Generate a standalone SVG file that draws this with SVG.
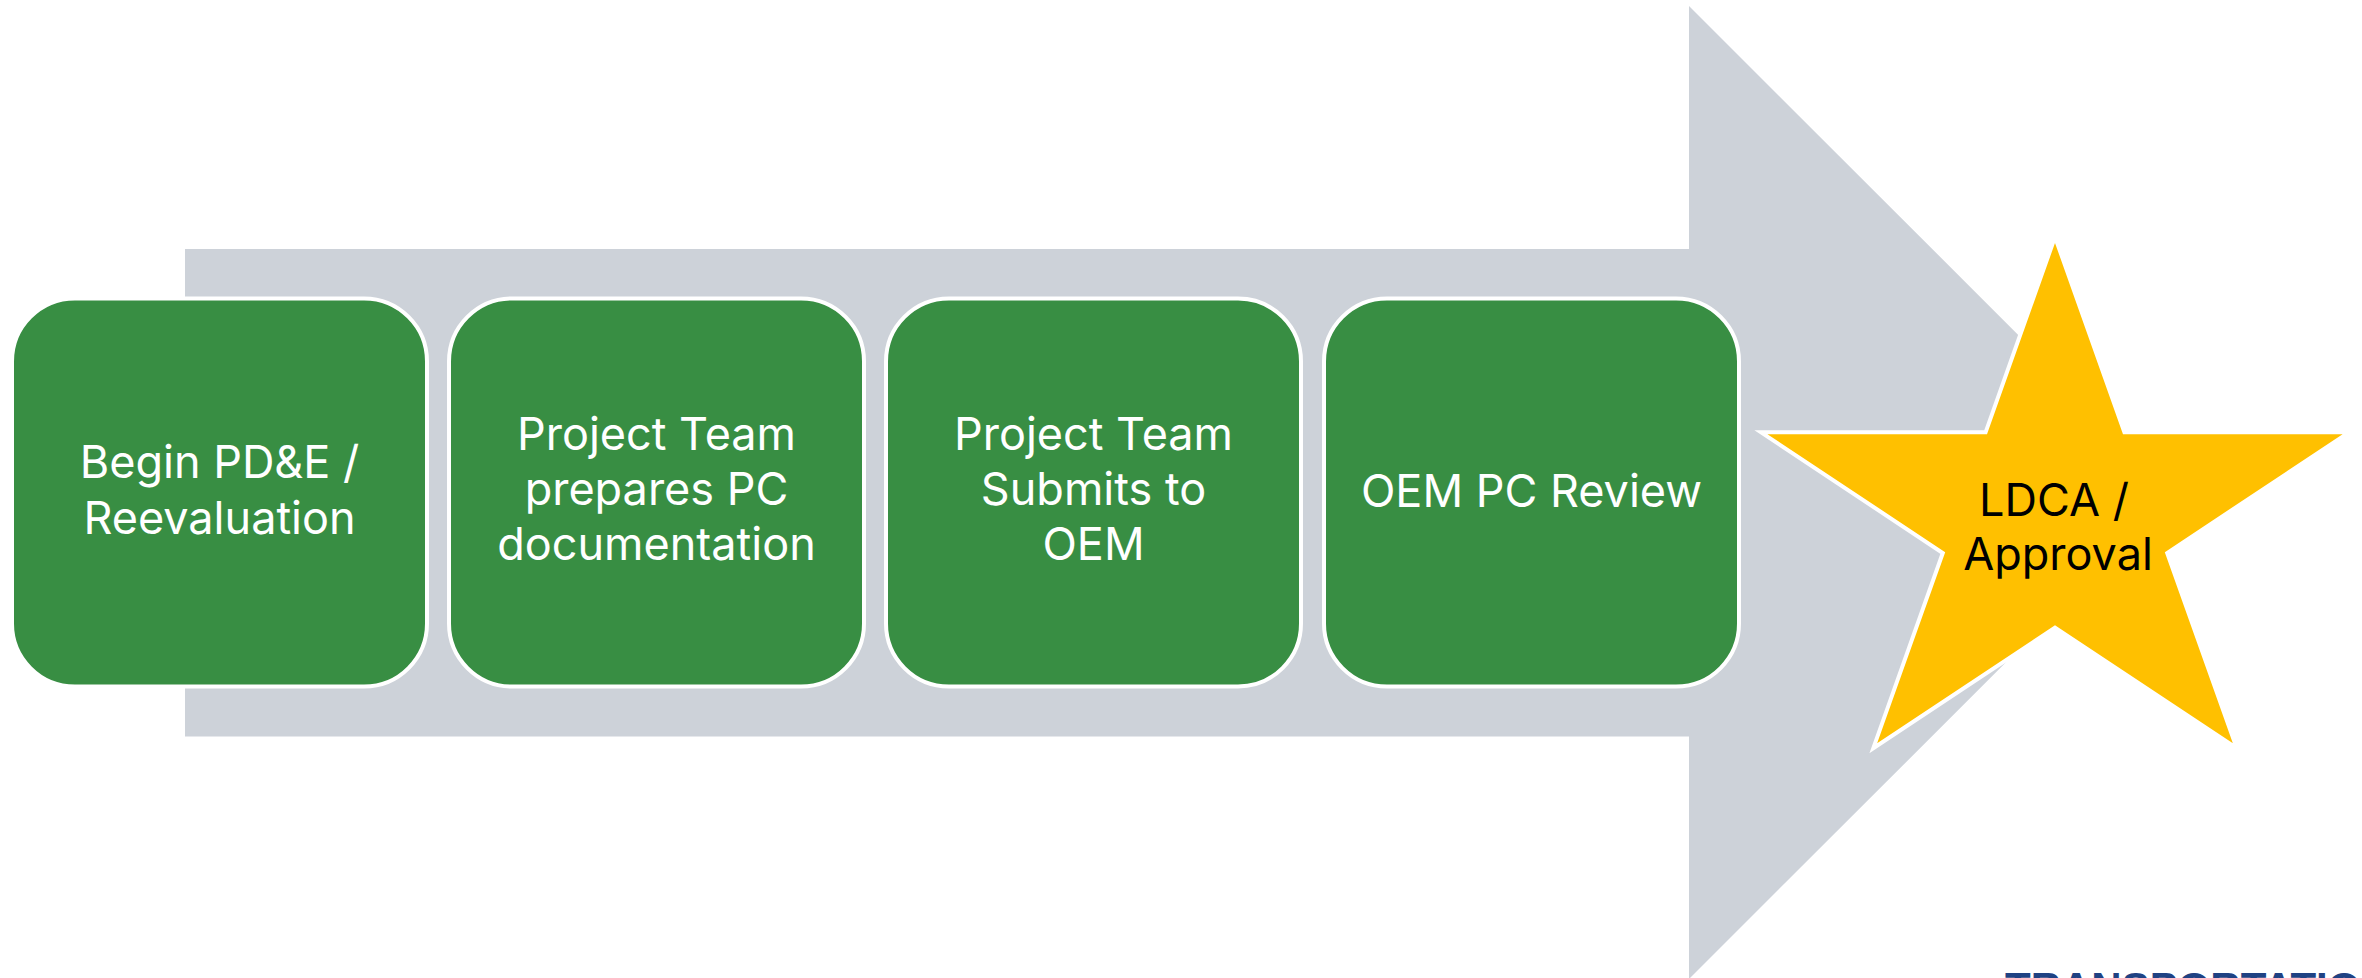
<svg xmlns="http://www.w3.org/2000/svg" width="2362" height="978" viewBox="0 0 2362 978">
  <style>
    .box { fill: #388E43; stroke: #FFFFFF; stroke-width: 4; }
    .lbl { font-family: Inter, "Open Sans", "Liberation Sans", sans-serif; font-size: 45px; fill: #FFFFFF; text-anchor: middle; }
    .star { fill: #FFC000; stroke: #FFFFFF; stroke-width: 4; stroke-linejoin: miter; }
    .starlbl { font-family: Inter, "Open Sans", "Liberation Sans", sans-serif; font-size: 45px; fill: #000000; text-anchor: middle; }
    .brand { font-family: "Liberation Sans", Arial, sans-serif; font-weight: bold; font-size: 42px; fill: #1F4283; }
  </style>
  <rect width="2362" height="978" fill="#FFFFFF"/>
  <g id="connectors">
    <polygon id="process-arrow" points="185,249 1689,249 1689,6 2176,492.5 1689,979 1689,736.5 185,736.5" fill="#CDD2D9"/>
  </g>
  <g id="node-begin">
    <rect class="box" x="12" y="298.5" width="415" height="388" rx="63" ry="63"/>
    <text class="lbl" x="219.5" y="478">Begin PD&amp;E /</text>
    <text class="lbl" x="219.5" y="534">Reevaluation</text>
  </g>
  <g id="node-prepares">
    <rect class="box" x="449" y="298.5" width="415" height="388" rx="63" ry="63"/>
    <text class="lbl" x="656.5" y="450">Project Team</text>
    <text class="lbl" x="656.5" y="505">prepares PC</text>
    <text class="lbl" x="656.5" y="560">documentation</text>
  </g>
  <g id="node-submits">
    <rect class="box" x="886" y="298.5" width="415" height="388" rx="63" ry="63"/>
    <text class="lbl" x="1093.5" y="450">Project Team</text>
    <text class="lbl" x="1093.5" y="505">Submits to</text>
    <text class="lbl" x="1093.5" y="560">OEM</text>
  </g>
  <g id="node-review">
    <rect class="box" x="1324" y="298.5" width="415" height="388" rx="63" ry="63"/>
    <text class="lbl" x="1531.5" y="507">OEM PC Review</text>
  </g>
  <g id="node-approval">
    <polygon class="star" points="2055,237 2124.4,432.3 2349,432.3 2167.2,553 2236.7,748.2 2055,627.6 1873.3,748.2 1942.8,553 1761,432.3 1985.6,432.3"/>
    <text class="starlbl" x="2054" y="516">LDCA /</text>
    <text class="starlbl" x="2058" y="570">Approval</text>
  </g>
  <g id="brand">
    <text class="brand" x="2005" y="1002">TRANSPORTATION</text>
  </g>
</svg>
